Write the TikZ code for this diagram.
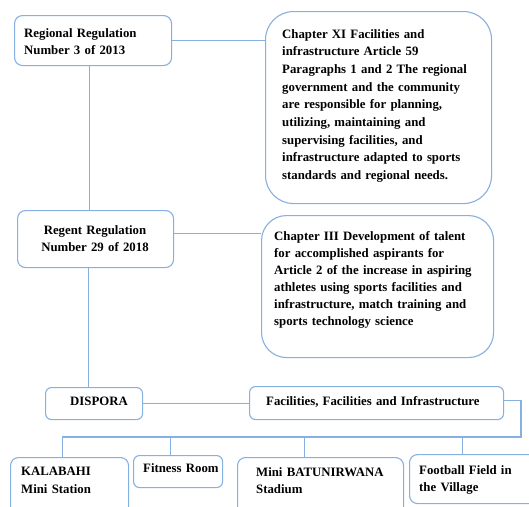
\documentclass[tikz,border=0pt]{standalone}
\usepackage{fontspec}
\setmainfont{Liberation Serif}
\definecolor{edgeblue}{RGB}{135,176,226}
\begin{document}
\begin{tikzpicture}[x=1pt,y=-1pt,
  box/.style={draw=edgeblue,line width=1.1pt,inner sep=0pt,anchor=north west,fill=white},
  link/.style={draw=edgeblue,line width=1.1pt},
  label/.style={inner sep=0pt,anchor=north west,align=left,text width=240pt,
    font=\bfseries\fontsize{12.8}{17.7}\selectfont}]
\useasboundingbox (0,0) rectangle (529,506);
\fill[white] (0,0) rectangle (529,506);
\clip (0,0) rectangle (529,506);

% boxes
\node[box,rounded corners=8pt,minimum width=157pt,minimum height=50pt] (reg) at (14,15) {};
\node[box,rounded corners=28pt,minimum width=226pt,minimum height=192pt] (chap11) at (265,11) {};
\node[box,rounded corners=8pt,minimum width=156pt,minimum height=57pt] (regent) at (17,210) {};
\node[box,rounded corners=25pt,minimum width=232pt,minimum height=142pt] (chap3) at (261,215) {};
\node[box,rounded corners=6pt,minimum width=97pt,minimum height=32pt] (dispora) at (45,387) {};
\node[box,rounded corners=6pt,minimum width=254pt,minimum height=33pt] (facil) at (249,386) {};
\node[box,rounded corners=8pt,minimum width=118pt,minimum height=63pt] (kala) at (10,457) {};
\node[box,rounded corners=6pt,minimum width=89pt,minimum height=32pt] (fitness) at (133,455) {};
\node[box,rounded corners=8pt,minimum width=166pt,minimum height=63pt] (batu) at (237,457) {};
\node[box,rounded corners=8pt,minimum width=136pt,minimum height=49pt] (football) at (409,454) {};

% connectors
\draw[link] (reg.east) -- (reg.east -| chap11.west);
\draw[link] ([xshift=-3.5pt]reg.south) -- ([xshift=-3.5pt]reg.south |- regent.north);
\draw[link] ([yshift=5.5pt]regent.east) -- ([yshift=5.5pt]regent.east -| chap3.west);
\draw[link] ([xshift=-7pt]regent.south) -- ([xshift=-7pt]regent.south |- dispora.north);
\draw[link] (dispora.east) -- (dispora.east -| facil.west);
\coordinate (busR) at (521,437);
\coordinate (busL) at (62,437);
\draw[link] ([yshift=2.5pt]facil.east) -| (busR) -- (busL);
\draw[link] ([xshift=-7pt]kala.north) -- ([xshift=-7pt]kala.north |- busR);
\draw[link] ([xshift=-7.5pt]fitness.north) -- ([xshift=-7.5pt]fitness.north |- busR);
\draw[link] ([xshift=-16pt]batu.north) -- ([xshift=-16pt]batu.north |- busR);
\draw[link] ([xshift=-15pt]football.north) -- ([xshift=-15pt]football.north |- busR);

% texts
\node[label] (treg) at (24,28) {Regional Regulation\\Number 3 of 2013};
\node[label] (tchap11) at (282,29) {Chapter XI Facilities and\\infrastructure Article 59\\Paragraphs 1 and 2 The regional\\government and the community\\are responsible for planning,\\utilizing, maintaining and\\supervising facilities, and\\infrastructure adapted to sports\\standards and regional needs.};
\node[label,align=center,text width=150pt,anchor=north] (tregent) at (95,225) {Regent Regulation\\Number 29 of 2018};
\node[label,font=\bfseries\fontsize{12.8}{17}\selectfont] (tchap3) at (274,231) {Chapter III Development of talent\\for accomplished aspirants for\\Article 2 of the increase in aspiring\\athletes using sports facilities and\\infrastructure, match training and\\sports technology science};
\node[label] (tdis) at (70,397) {DISPORA};
\node[label] (tfac) at (266,396) {Facilities, Facilities and Infrastructure};
\node[label] (tkala) at (21,467) {KALABAHI\\Mini Station};
\node[label] (tfit) at (143,463) {Fitness Room};
\node[label] (tbatu) at (256,467) {Mini BATUNIRWANA\\Stadium};
\node[label] (tfoot) at (419,465) {Football Field in\\the Village};
\end{tikzpicture}
\end{document}
